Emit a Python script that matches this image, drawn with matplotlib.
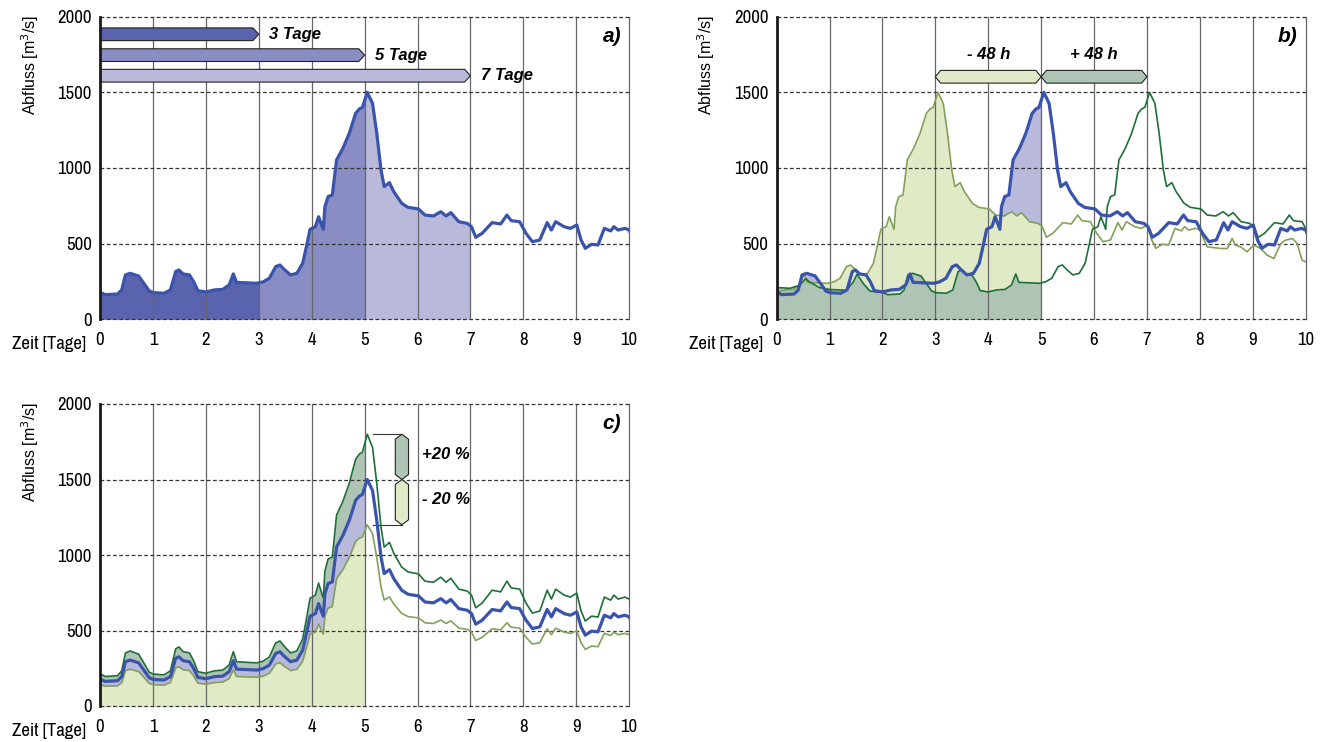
import numpy as np
import matplotlib
matplotlib.use("Agg")
import matplotlib.pyplot as plt
from matplotlib.patches import Polygon, Rectangle
from matplotlib import font_manager as fm

# ---------------------------------------------------------------------------
# Discharge hydrograph (days, m3/s); record extends two days before and after
# the plotted window so that shifted copies stay defined.
t_days = np.array([
    -2.0, -1.75, -1.56, -1.45, -1.38, -1.19, -1.0, -0.68, -0.55, -0.48, -0.36, -0.24, -0.1,
    0.0, 0.1, 0.33, 0.41, 0.48, 0.57, 0.73, 0.85, 0.93, 1.01,
    1.21, 1.33, 1.43, 1.49, 1.57, 1.69, 1.77, 1.85, 2.0, 2.16,
    2.32, 2.44, 2.52, 2.58, 2.72, 2.96, 3.08, 3.2, 3.32, 3.4,
    3.48, 3.6, 3.72, 3.83, 3.9, 3.97, 4.07, 4.13, 4.22, 4.25,
    4.31, 4.39, 4.47, 4.59, 4.71, 4.83, 4.9, 4.96, 5.05, 5.15, 5.23,
    5.31, 5.37, 5.47, 5.55, 5.7, 5.82, 6.02, 6.14, 6.3, 6.44,
    6.54, 6.63, 6.78, 6.94, 7.02, 7.1, 7.22, 7.41, 7.57, 7.69,
    7.77, 7.93, 8.05, 8.17, 8.31, 8.45, 8.53, 8.61, 8.77, 8.89,
    9.01, 9.09, 9.17, 9.29, 9.41, 9.53, 9.65, 9.71, 9.79, 9.92, 10.0,
    10.06, 10.14, 10.39, 10.52, 10.61, 10.67, 10.77, 10.89, 11.02, 11.15,
    11.27, 11.4, 11.53, 11.62, 11.75, 11.84, 11.93, 12.0,
])
q_base = np.array([
    210, 205, 225, 269, 247, 210, 197, 192, 247, 298, 236, 188, 180,
    178, 163, 167, 194, 293, 304, 286, 227, 187, 176,
    172, 194, 315, 326, 300, 293, 249, 189, 181, 194,
    198, 227, 300, 244, 242, 238, 247, 271, 348, 359,
    330, 293, 304, 370, 480, 595, 612, 678, 595, 744,
    811, 822, 1053, 1130, 1229, 1361, 1390, 1401, 1500, 1427, 1229,
    987, 877, 903, 844, 767, 740, 729, 689, 683, 711,
    683, 705, 645, 634, 612, 542, 568, 639, 630, 689,
    652, 645, 568, 513, 524, 639, 590, 645, 612, 601,
    623, 524, 469, 496, 491, 601, 584, 612, 590, 601, 590,
    540, 479, 468, 468, 534, 490, 479, 446, 490, 468,
    424, 402, 501, 523, 534, 501, 391, 380,
], dtype=float)

durations = [3, 5, 7]            # forecast horizons in panel a (days)
shift_hours = 48                 # time shift in panel b
scale_pct = 20                   # volume scaling in panel c
x_ticks = list(range(0, 11))
y_ticks = [0, 500, 1000, 1500, 2000]

# ---------------------------------------------------------------------------
names = {f.name for f in fm.fontManager.ttflist}
NARROW = "Liberation Sans"
for cand in ["Liberation Sans Narrow", "Arial Narrow", "Archivo Narrow",
             "Roboto Condensed", "PT Sans Narrow", "Pragati Narrow",
             "Fira Sans Condensed", "IBM Plex Sans Condensed"]:
    if cand in names:
        NARROW = cand
        break
REG = "Liberation Sans"

BLUE = "#3a53ab"
OLIVE = "#84a05c"
DKGREEN = "#1d6f37"
LTGREEN_FILL = "#e0eac6"
DKGREEN_FILL = "#aec4b5"
LAV_FILL = "#b9b9dc"
FILL_A = ["#5a63ad", "#8a8cc4", "#b9b9dc"]

W, H = 1333, 742
fig = plt.figure(figsize=(W / 100, H / 100), dpi=100)

def px_axes(x0, x1, ytop, ybot):
    return fig.add_axes([x0 / W, 1 - ybot / H, (x1 - x0) / W, (ybot - ytop) / H])

ax_a = px_axes(100, 629.2, 16.7, 319.3)
ax_b = px_axes(776.6, 1305.7, 16.7, 319.3)
ax_c = px_axes(100, 629.2, 404, 706)


def clip_x(ax, artist, x0, x1):
    rect = Rectangle((x0, -1e4), x1 - x0, 2e4, transform=ax.transData)
    artist.set_clip_path(rect)


def frame(ax, label, ylab_top_px, ylab_x_px, xlab_right_px, xlab_y_px):
    ax.set_xlim(0, 10)
    ax.set_ylim(0, 2000)
    for s in ax.spines.values():
        s.set_visible(False)
    ax.set_xticks(x_ticks)
    ax.set_yticks(y_ticks)
    ax.tick_params(length=0, labelsize=13.5, pad=6)
    ax.tick_params(axis="x", pad=9)
    for lab in ax.get_xticklabels() + ax.get_yticklabels():
        lab.set_fontfamily(NARROW)
    for x in x_ticks[1:]:
        ax.axvline(x, color="#666666", lw=0.9, zorder=2, clip_on=False)
    for y in y_ticks:
        ax.axhline(y, color="#333333", lw=0.9, ls=(0, (3, 2)), zorder=2, clip_on=False)
    ax.axvline(0, color="#1a1a1a", lw=2.0, zorder=6, clip_on=False)
    ax.text(0.985, 0.935, label, transform=ax.transAxes, ha="right", va="center",
            fontsize=15, fontweight="bold", fontstyle="italic", family=REG, zorder=7)
    fig.text(ylab_x_px / W, 1 - ylab_top_px / H, "Abfluss [m$^3$/s]", rotation=90,
             ha="center", va="top", fontsize=11.5, family=REG)
    fig.text(xlab_right_px / W, 1 - xlab_y_px / H, "Zeit [Tage]",
             ha="right", va="center", fontsize=13.5, family=NARROW)


def bold_note(ax, x, y, s, ha="left"):
    ax.text(x, y, s, ha=ha, va="center", fontsize=12, fontweight="bold",
            fontstyle="italic", family=REG, zorder=8)


# ---------------------------- panel a --------------------------------------
frame(ax_a, "a)", 15, 30, 86, 344)
starts = [0] + durations[:-1]
for (x0, x1), col in zip(zip(starts, durations), FILL_A):
    f = ax_a.fill_between(t_days, 0, q_base, color=col, lw=0, zorder=1)
    clip_x(ax_a, f, x0, x1)
ax_a.plot(t_days, q_base, color=BLUE, lw=2.3, zorder=5, solid_joinstyle="round")

bar_centres = [1884, 1746, 1610]
half_h, tip = 42, 0.11
for d, yc, col in zip(durations, bar_centres, FILL_A):
    poly = Polygon([(0, yc - half_h), (d - tip, yc - half_h), (d, yc),
                    (d - tip, yc + half_h), (0, yc + half_h)], closed=True,
                   facecolor=col, edgecolor="#222222", lw=0.8, zorder=4)
    ax_a.add_patch(poly)
    bold_note(ax_a, d + 0.2, yc, f"{d} Tage")

# ---------------------------- panel b --------------------------------------
frame(ax_b, "b)", 15, 706.6, 762.6, 344)
shift_d = shift_hours / 24
t_early = t_days - shift_d
t_late = t_days + shift_d
f = ax_b.fill_between(t_days, 0, q_base, color=LAV_FILL, lw=0, zorder=1)
clip_x(ax_b, f, 0, 5)
f = ax_b.fill_between(t_early, 0, q_base, color=LTGREEN_FILL, lw=0, zorder=1.1)
clip_x(ax_b, f, 0, 5)
f = ax_b.fill_between(t_late, 0, q_base, color=DKGREEN_FILL, lw=0, zorder=1.2)
clip_x(ax_b, f, 0, 5)
ax_b.plot(t_early, q_base, color=OLIVE, lw=1.2, zorder=4)
ax_b.plot(t_late, q_base, color=DKGREEN, lw=1.2, zorder=4.1)
ax_b.plot(t_days, q_base, color=BLUE, lw=2.3, zorder=5, solid_joinstyle="round")

yc, half_h, tip = 1603, 42, 0.1
for x0, x1, col in [(5 - shift_d, 5, LTGREEN_FILL), (5, 5 + shift_d, DKGREEN_FILL)]:
    poly = Polygon([(x0, yc), (x0 + tip, yc + half_h), (x1 - tip, yc + half_h), (x1, yc),
                    (x1 - tip, yc - half_h), (x0 + tip, yc - half_h)], closed=True,
                   facecolor=col, edgecolor="#222222", lw=0.8, zorder=4)
    ax_b.add_patch(poly)
bold_note(ax_b, 5 - shift_d / 2, 1750, f"- {shift_hours} h", ha="center")
bold_note(ax_b, 5 + shift_d / 2, 1750, f"+ {shift_hours} h", ha="center")

# ---------------------------- panel c --------------------------------------
frame(ax_c, "c)", 402, 30, 86, 731)
q_hi = q_base * (1 + scale_pct / 100)
q_lo = q_base * (1 - scale_pct / 100)
for q, col, z in [(q_hi, DKGREEN_FILL, 1), (q_base, LAV_FILL, 1.1), (q_lo, LTGREEN_FILL, 1.2)]:
    f = ax_c.fill_between(t_days, 0, q, color=col, lw=0, zorder=z)
    clip_x(ax_c, f, 0, 5)
ax_c.plot(t_days, q_lo, color=OLIVE, lw=1.2, zorder=4)
ax_c.plot(t_days, q_hi, color=DKGREEN, lw=1.2, zorder=4.1)
ax_c.plot(t_days, q_base, color=BLUE, lw=2.3, zorder=5, solid_joinstyle="round")

peak = q_base.max()
top, mid, bot = peak * (1 + scale_pct / 100), peak, peak * (1 - scale_pct / 100)
xa, xb, vt = 5.58, 5.83, 33
xm = (xa + xb) / 2
for y_hi, y_lo, col in [(top, mid, DKGREEN_FILL), (mid, bot, LTGREEN_FILL)]:
    poly = Polygon([(xm, y_hi), (xb, y_hi - vt), (xb, y_lo + vt), (xm, y_lo),
                    (xa, y_lo + vt), (xa, y_hi - vt)], closed=True,
                   facecolor=col, edgecolor="#222222", lw=0.8, zorder=4)
    ax_c.add_patch(poly)
for y in (top, bot):
    ax_c.plot([5.15, xm], [y, y], color="#333333", lw=0.8, zorder=4)
bold_note(ax_c, 6.08, 1668, f"+{scale_pct} %")
bold_note(ax_c, 6.08, 1369, f"- {scale_pct} %")

fig.savefig("out.png", dpi=100)
